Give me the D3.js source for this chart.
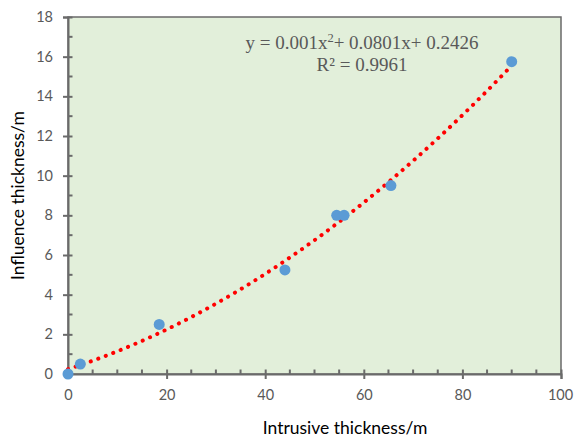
<!DOCTYPE html>
<html>
<head>
<meta charset="utf-8">
<script src="https://cdn.jsdelivr.net/npm/d3@7"></script>
<style>
  body { margin: 0; background: #fff; }
  svg { display: block; }
</style>
</head>
<body>
<div id="chart"></div>
<script>
// measured points
var intrusive = [0, 2.5, 18.5, 44, 54.5, 56, 65.5, 90];
var influence = [0, 0.5, 2.5, 5.25, 8, 8, 9.5, 15.75];

// fitted polynomial from the chart
var coef = [0.2426, 0.0801, 0.001];
var xTicks = [0, 20, 40, 60, 80, 100];
var yTicks = [0, 2, 4, 6, 8, 10, 12, 14, 16, 18];

var width = 574, height = 440;
var margin = {top: 17, right: 13, bottom: 66, left: 68};
var axisColor = "#6a6a6a";
var sans = "Lato, 'Open Sans', sans-serif";

var svg = d3.select("#chart").append("svg")
    .attr("width", width)
    .attr("height", height);

var x = d3.scaleLinear().domain([0, 100]).range([margin.left, width - margin.right]);
var y = d3.scaleLinear().domain([0, 18]).range([height - margin.bottom, margin.top]);

// plot background + frame
svg.append("rect")
    .attr("x", x(0)).attr("y", y(18))
    .attr("width", x(100) - x(0)).attr("height", y(0) - y(18))
    .attr("fill", "#e2efda")
    .attr("stroke", axisColor)
    .attr("stroke-width", 1.5);

// minor ticks (inside)
var xMinor = d3.range(5, 100, 5).filter(function(d) { return d % 20 != 0; });
var yMinor = d3.range(1, 18, 2);

svg.append("g").selectAll("line").data(xMinor).enter().append("line")
    .attr("x1", function(d) { return x(d); }).attr("x2", function(d) { return x(d); })
    .attr("y1", y(0)).attr("y2", y(0) - 4.5)
    .attr("stroke", axisColor).attr("stroke-width", 2);

svg.append("g").selectAll("line").data(yMinor).enter().append("line")
    .attr("x1", x(0)).attr("x2", x(0) + 4.5)
    .attr("y1", function(d) { return y(d); }).attr("y2", function(d) { return y(d); })
    .attr("stroke", axisColor).attr("stroke-width", 2);

// axes
var xAxis = svg.append("g")
    .attr("transform", "translate(0," + y(0) + ")")
    .call(d3.axisBottom(x).tickValues(xTicks).tickSize(5).tickPadding(11));

var yAxis = svg.append("g")
    .attr("transform", "translate(" + x(0) + ",0)")
    .call(d3.axisLeft(y).tickValues(yTicks).tickSize(5).tickPadding(10));

[xAxis, yAxis].forEach(function(a) {
  a.select(".domain").attr("stroke", axisColor).attr("stroke-width", 2);
  a.selectAll(".tick line").attr("stroke", axisColor).attr("stroke-width", 2);
  a.selectAll(".tick text")
      .attr("fill", "#595959")
      .style("font-family", sans)
      .style("font-size", "14.5px");
});
xAxis.selectAll(".tick line").attr("y1", -4.5);
yAxis.selectAll(".tick line").attr("x1", 4.5);
// keep the last label inside the window
xAxis.selectAll(".tick text").filter(function(d) { return d == 100; }).attr("dx", -1);

// trendline
var line = d3.line()
    .x(function(d) { return x(d); })
    .y(function(d) { return y(coef[0] + coef[1] * d + coef[2] * d * d); });

svg.append("path")
    .datum(d3.range(0, 90.01, 0.5))
    .attr("d", line)
    .attr("fill", "none")
    .attr("stroke", "#ff0000")
    .attr("stroke-width", 4)
    .attr("stroke-linecap", "round")
    .attr("stroke-dasharray", "0.1 7.9");

// points
svg.append("g").selectAll("circle")
    .data(intrusive)
    .enter().append("circle")
    .attr("cx", function(d) { return x(d); })
    .attr("cy", function(d, i) { return y(influence[i]); })
    .attr("r", 5.5)
    .attr("fill", "#5b9bd5");

// equation
var serif = "'Liberation Serif', 'Times New Roman', serif";
var eq = svg.append("text")
    .attr("x", 362).attr("y", 49)
    .attr("text-anchor", "middle")
    .attr("fill", "#595959")
    .style("font-family", serif)
    .style("font-size", "19px");
eq.append("tspan").text("y = 0.001x");
eq.append("tspan").attr("dy", -7).style("font-size", "12.5px").text("2");
eq.append("tspan").attr("dy", 7).text("+ 0.0801x+ 0.2426");

svg.append("text")
    .attr("x", 362).attr("y", 71)
    .attr("text-anchor", "middle")
    .attr("fill", "#595959")
    .style("font-family", serif)
    .style("font-size", "19px")
    .text("R² = 0.9961");

// axis titles
svg.append("text")
    .attr("x", 345).attr("y", 434)
    .attr("text-anchor", "middle")
    .style("font-family", sans)
    .style("font-size", "17.5px")
    .text("Intrusive thickness/m");

svg.append("text")
    .attr("transform", "translate(24," + y(9) + ") rotate(-90)")
    .attr("text-anchor", "middle")
    .style("font-family", sans)
    .style("font-size", "17.5px")
    .text("Influence thickness/m");
</script>
</body>
</html>
